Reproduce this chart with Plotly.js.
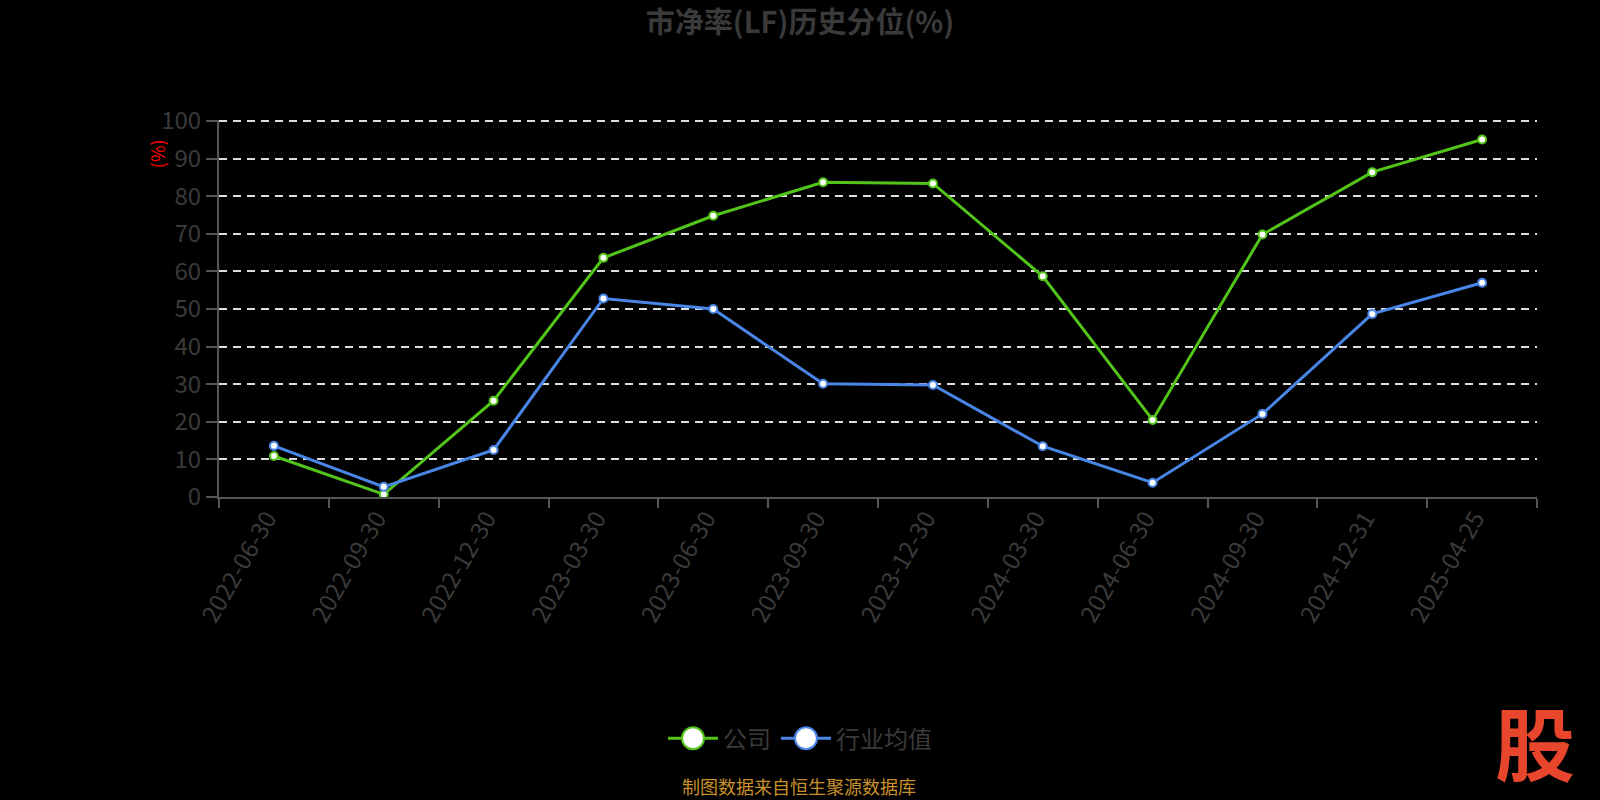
<!DOCTYPE html>
<html>
<head>
<meta charset="utf-8">
<script src="https://cdn.plot.ly/plotly-3.0.1.min.js"></script>
<style>
  html, body { margin: 0; padding: 0; background: #000; }
  #chart { width: 1600px; height: 800px; }
</style>
</head>
<body>
<div id="chart"></div>
<script>
const categories = ["2022-06-30", "2022-09-30", "2022-12-30", "2023-03-30", "2023-06-30", "2023-09-30",
                    "2023-12-30", "2024-03-30", "2024-06-30", "2024-09-30", "2024-12-31", "2025-04-25"];
const companyValues = [10.9, 0.7, 25.6, 63.6, 74.8, 83.7, 83.4, 58.7, 20.5, 69.8, 86.4, 95.1];
const industryValues = [13.6, 2.7, 12.5, 52.8, 50.0, 30.1, 29.8, 13.5, 3.8, 22.1, 48.7, 57.0];
const yTickValues = [0, 10, 20, 30, 40, 50, 60, 70, 80, 90, 100];
const seriesNames = ["公司", "行业均值"];

const FONT = '"Noto Sans CJK SC", "Noto Sans", sans-serif';
const GRAY = '#3a3a3a';
const GREEN = '#52c41a';
const BLUE = '#4a86e8';

const traces = [
  {
    x: categories, y: companyValues, name: seriesNames[0], type: 'scatter', mode: 'lines+markers',
    line: { color: GREEN, width: 3 },
    marker: { symbol: 'circle', size: 8, color: '#ffffff', line: { color: GREEN, width: 2 } },
    hoverinfo: 'x+y'
  },
  {
    x: categories, y: industryValues, name: seriesNames[1], type: 'scatter', mode: 'lines+markers',
    line: { color: BLUE, width: 3 },
    marker: { symbol: 'circle', size: 8, color: '#ffffff', line: { color: BLUE, width: 2 } },
    hoverinfo: 'x+y'
  }
];

const layout = {
  width: 1600, height: 800,
  paper_bgcolor: '#000000', plot_bgcolor: '#000000',
  font: { family: FONT, color: GRAY },
  margin: { l: 219, r: 63, t: 120, b: 303, pad: 0, autoexpand: false },
  title: {
    text: '<b>市净率(LF)历史分位(%)</b>',
    font: { family: FONT, size: 29, color: GRAY },
    x: 0.5, xanchor: 'center', xref: 'container',
    y: 0.971, yanchor: 'middle', yref: 'container'
  },
  xaxis: {
    type: 'category',
    range: [-0.5, 11.5],
    tickangle: -60,
    tickfont: { family: FONT, size: 24, color: GRAY },
    ticklabelshift: -7,
    ticklabelstandoff: -4,
    showline: true, linecolor: '#555555', linewidth: 2,
    ticks: 'outside', tickson: 'boundaries', ticklen: 9, tickwidth: 2, tickcolor: '#555555',
    showgrid: false, zeroline: false, automargin: false,
    fixedrange: true
  },
  yaxis: {
    range: [0, 100.27],
    tickvals: yTickValues,
    ticktext: yTickValues.map(String),
    tickfont: { family: FONT, size: 24, color: GRAY },
    showline: true, linecolor: '#555555', linewidth: 2,
    ticks: 'outside', ticklen: 11, tickwidth: 2, tickcolor: '#555555',
    ticklabelstandoff: 0,
    showgrid: true, gridcolor: '#dddddd', gridwidth: 2, griddash: '8px,6px',
    zeroline: false, automargin: false,
    fixedrange: true
  },
  showlegend: true,
  legend: {
    orientation: 'h',
    x: 0.4408, xanchor: 'center', xref: 'paper',
    y: -0.641, yanchor: 'middle',
    font: { family: FONT, size: 24, color: GRAY },
    bgcolor: 'rgba(0,0,0,0)',
    itemsizing: 'trace',
    itemwidth: 50,
    traceorder: 'normal'
  },
  annotations: [
    {
      text: '(%)', textangle: -90, showarrow: false,
      xref: 'paper', yref: 'paper', x: -0.047, y: 0.9096,
      xanchor: 'center', yanchor: 'middle',
      font: { family: FONT, size: 18, color: '#ff0000' }
    },
    {
      text: '制图数据来自恒生聚源数据库', showarrow: false,
      xref: 'paper', yref: 'paper', x: 0.440, y: -0.767,
      xanchor: 'center', yanchor: 'middle',
      font: { family: FONT, size: 18, color: '#c8902a' }
    },
    {
      text: '<b>股</b>', showarrow: false,
      xref: 'paper', yref: 'paper', x: 0.9985, y: -0.645,
      xanchor: 'center', yanchor: 'middle',
      font: { family: FONT, size: 80, color: '#e8462c' }
    }
  ]
};

Plotly.newPlot('chart', traces, layout, { displayModeBar: false, staticPlot: true }).then(function (gd) {
  // enlarge legend symbols to match the reference's large hollow circles
  const r = 11;
  const circle = 'M' + r + ',0A' + r + ',' + r + ' 0 1,1 0,-' + r + 'A' + r + ',' + r + ' 0 0,1 ' + r + ',0Z';
  gd.querySelectorAll('g.legend path.scatterpts').forEach(function (p) {
    p.setAttribute('d', circle);
  });
});
</script>
</body>
</html>
